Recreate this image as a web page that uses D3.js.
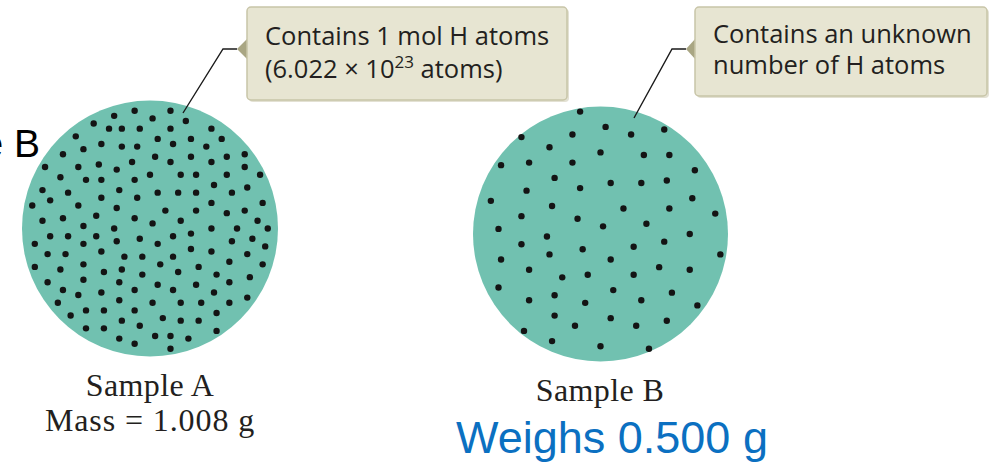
<!DOCTYPE html>
<html>
<head>
<meta charset="utf-8">
<script src="https://cdn.jsdelivr.net/npm/d3@7"></script>
<style>
  html, body { margin: 0; padding: 0; background: #ffffff; }
  svg { display: block; }
</style>
</head>
<body>
<div id="chart"></div>
<script>
// ---------- DATA (dot positions in % of each sample's circle box, 0..100) ----------
const sampleNames = ["Sample A", "Sample B"];
const sampleSubtitles = ["Mass = 1.008 g", "Weighs 0.500 g"];
const calloutLinesA = ["Contains 1 mol H atoms", "(6.022 \u00d7 10", "23", " atoms)"];
const calloutLinesB = ["Contains an unknown", "number of H atoms"];
const cutOffLabel = "Sample B";

const dotsA = [
  [44,4],[58,4],[36,6],[51,7],[64,8],[28,9],[34,11],[39,11],[46,11],[58,11],[74,11],
  [21,14],[53,15],[66,15],[78,15],[31,17],[39,18],[45,18],[59,17],[24,19],[72,18],
  [16,21],[87,21],[52,22],[80,22],[43,24],[58,24],[66,22],[30,25],[74,24],[9,26],
  [22,26],[87,26],[37,27],[50,29],[62,29],[68,29],[15,30],[80,29],[93,29],[25,31],
  [31,31],[44,31],[75,33],[8,35],[38,35],[18,36],[88,34],[53,36],[61,36],[68,36],
  [82,36],[45,38],[31,38],[11,39],[74,40],[94,40],[4,41],[22,41],[37,42],[56,43],
  [68,43],[87,43],[29,45],[80,44],[16,46],[8,47],[44,46],[51,48],[62,47],[24,49],
  [92,47],[74,50],[84,50],[36,50],[96,50],[11,53],[18,53],[29,53],[46,54],[66,52],
  [59,53],[90,54],[37,55],[53,56],[82,55],[5,56],[24,56],[95,57],[66,58],[74,59],
  [31,59],[47,61],[10,60],[40,61],[17,60],[59,61],[88,60],[81,63],[5,65],[54,64],
  [24,64],[39,66],[94,64],[15,66],[69,65],[32,67],[47,68],[61,67],[76,68],[89,69],
  [24,70],[38,71],[10,71],[53,72],[81,71],[68,72],[16,74],[44,74],[59,74],[31,75],
  [75,75],[22,76],[88,77],[14,79],[38,78],[51,79],[62,79],[70,79],[81,79],[32,82],
  [25,82],[44,82],[19,84],[76,83],[55,85],[39,86],[62,86],[69,86],[25,89],[32,89],
  [46,88],[76,90],[58,92],[52,92],[38,93],[65,93],[44,95],[58,97]
];

const dotsB = [
  [42,2],[52,8],[62,11],[75,9],[19,12],[39,11],[30,16],[50,18],[67,19],[77,19],
  [11,23],[22,22],[39,22],[87,25],[32,28],[54,30],[66,30],[76,29],[21,33],[42,32],
  [7,37],[31,39],[59,40],[77,40],[86,36],[95,42],[19,43],[41,44],[51,47],[68,46],
  [10,48],[29,51],[19,54],[43,56],[63,55],[75,53],[85,50],[30,58],[54,60],[97,58],
  [11,60],[22,64],[35,67],[45,66],[63,66],[73,63],[85,64],[10,71],[32,74],[55,72],
  [78,73],[22,76],[44,77],[66,76],[88,78],[32,82],[54,83],[40,86],[64,86],[76,84],
  [20,88],[31,92],[50,94],[69,95]
];

// ---------- LAYOUT ----------
const W = 997, H = 467;
const svg = d3.select("#chart").append("svg")
  .attr("width", W).attr("height", H)
  .attr("font-family", "'Open Sans', 'Noto Sans', sans-serif");

const teal = "#71c1b0";
const samples = [
  { name: sampleNames[0], sub: sampleSubtitles[0], dots: dotsA, cx: 150, cy: 228.5, r: 128 },
  { name: sampleNames[1], sub: sampleSubtitles[1], dots: dotsB, cx: 600.5, cy: 234, r: 127.5 }
];

// cut-off big label on the far left (the reference shows only its end)
svg.append("text")
  .attr("x", 40).attr("y", 157)
  .attr("text-anchor", "end")
  .attr("font-family", "'Liberation Sans', Arial, sans-serif")
  .attr("font-size", 39)
  .attr("fill", "#000")
  .text(cutOffLabel);

samples.forEach((s, i) => {
  const x = d3.scaleLinear().domain([0, 100]).range([s.cx - s.r, s.cx + s.r]);
  const y = d3.scaleLinear().domain([0, 100]).range([s.cy - s.r, s.cy + s.r]);
  const g = svg.append("g");
  g.append("circle")
    .attr("cx", x(50)).attr("cy", y(50)).attr("r", s.r)
    .attr("fill", teal);
  g.selectAll("circle.dot").data(s.dots).join("circle")
    .attr("class", "dot")
    .attr("cx", d => x(d[0])).attr("cy", d => y(d[1]))
    .attr("r", 3.2)
    .attr("fill", "#141414");
});

// ---------- CALLOUTS ----------
function callout(box, tip, lineEnd) {
  const g = svg.append("g");
  g.append("path")
    .attr("d", d3.line()([[tip[0], tip[1]], [tip[0] - 14, tip[1]], lineEnd]))
    .attr("fill", "none").attr("stroke", "#1a1a1a").attr("stroke-width", 1.4);
  g.append("rect")
    .attr("x", box.x + 2).attr("y", box.y + 2)
    .attr("width", box.w).attr("height", box.h)
    .attr("rx", 4).attr("fill", "#dcdac8").attr("opacity", 0.8);
  g.append("path")
    .attr("d", d3.line()([[box.x + 1, tip[1] - 11], [tip[0], tip[1]], [box.x + 1, tip[1] + 11]]))
    .attr("fill", "#a9a683");
  g.append("rect")
    .attr("x", box.x).attr("y", box.y)
    .attr("width", box.w).attr("height", box.h)
    .attr("rx", 4)
    .attr("fill", "#e7e5d2").attr("stroke", "#c8c5a8").attr("stroke-width", 1.5);
  return g;
}

const calloutFont = 25.5;
const gA = callout({ x: 247, y: 7, w: 320, h: 93 }, [237, 49], [183, 113]);
gA.append("text").attr("x", 265).attr("y", 45)
  .attr("font-size", calloutFont).attr("fill", "#231f20").text(calloutLinesA[0]);
const t2 = gA.append("text").attr("x", 265).attr("y", 78)
  .attr("font-size", calloutFont).attr("fill", "#231f20");
t2.append("tspan").text(calloutLinesA[1]);
t2.append("tspan").attr("dy", -10).attr("font-size", 17).text(calloutLinesA[2]);
t2.append("tspan").attr("dy", 10).text(calloutLinesA[3]);

const gB = callout({ x: 695, y: 7, w: 292, h: 89 }, [686, 49], [634, 118]);
gB.append("text").attr("x", 713).attr("y", 43)
  .attr("font-size", calloutFont).attr("fill", "#231f20").text(calloutLinesB[0]);
gB.append("text").attr("x", 713).attr("y", 74)
  .attr("font-size", calloutFont).attr("fill", "#231f20").text(calloutLinesB[1]);

// ---------- LABELS ----------
const serif = "'Liberation Serif', 'DejaVu Serif', serif";
svg.append("text").attr("x", 150).attr("y", 396)
  .attr("text-anchor", "middle").attr("font-family", serif)
  .attr("font-size", 32).attr("letter-spacing", 0.4)
  .attr("fill", "#231f20").text(samples[0].name);
svg.append("text").attr("x", 150).attr("y", 431)
  .attr("text-anchor", "middle").attr("font-family", serif)
  .attr("font-size", 32).attr("letter-spacing", 0.9)
  .attr("fill", "#231f20").text(samples[0].sub);

svg.append("text").attr("x", 600).attr("y", 401)
  .attr("text-anchor", "middle").attr("font-family", serif)
  .attr("font-size", 32).attr("letter-spacing", 0.4)
  .attr("fill", "#231f20").text(samples[1].name);
svg.append("text").attr("x", 612).attr("y", 453)
  .attr("text-anchor", "middle")
  .attr("font-family", "'Liberation Sans', Arial, sans-serif")
  .attr("font-size", 45).attr("fill", "#0b70c1").text(samples[1].sub);
</script>
</body>
</html>
